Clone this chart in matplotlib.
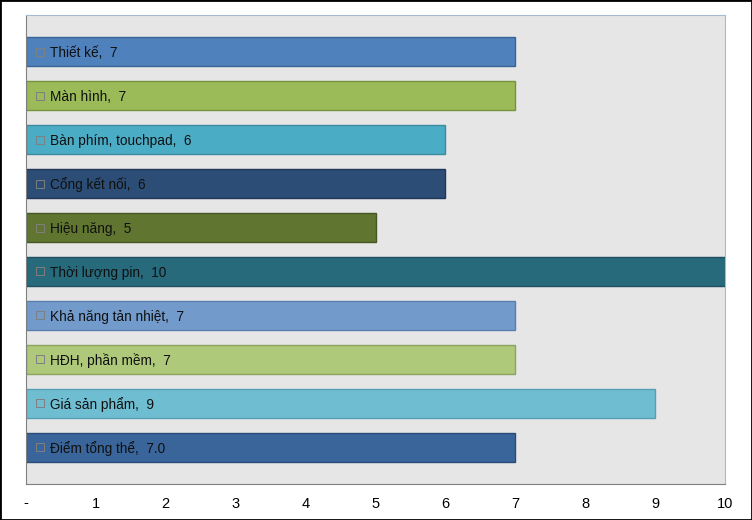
import matplotlib.pyplot as plt
from matplotlib.patches import Rectangle

categories = ["Thiết kế", "Màn hình", "Bàn phím, touchpad", "Cổng kết nối", "Hiệu năng",
              "Thời lượng pin", "Khả năng tản nhiệt", "HĐH, phần mềm", "Giá sản phẩm", "Điểm tổng thể"]
values = [7, 7, 6, 6, 5, 10, 7, 7, 9, 7.0]
value_labels = ["7", "7", "6", "6", "5", "10", "7", "7", "9", "7.0"]
colors = ["#4F81BD", "#9BBB59", "#4BACC6", "#2C4D75", "#5F7530",
          "#276A7C", "#729ACA", "#AFC97A", "#6FBDD1", "#3A659A"]
edges = ["#3A6496", "#76923C", "#3A8BA0", "#1F3857", "#465722",
         "#1D5060", "#5A7FAD", "#8AA55C", "#559FB3", "#2A4D77"]
xticks = [0, 1, 2, 3, 4, 5, 6, 7, 8, 9, 10]
xticklabels = ["-", "1", "2", "3", "4", "5", "6", "7", "8", "9", "10"]

plt.rcParams['font.family'] = ['Liberation Sans', 'DejaVu Sans']

fig = plt.figure(figsize=(7.52, 5.2), dpi=100)
ax = fig.add_axes([26/752, 1 - 484/520, (725-26)/752, (484-15)/520])
ax.set_facecolor('#E6E6E6')

pos = list(range(len(categories)))
ax.barh(pos, values, height=0.68, color=colors, edgecolor=edges, linewidth=1, zorder=2)

for i, (c, v) in enumerate(zip(categories, value_labels)):
    ax.plot(0.2, i, marker='s', markersize=5.5, markerfacecolor='none',
            markeredgecolor='#7F7F7F', markeredgewidth=0.7, zorder=3)
    ax.text(0.35, i, c + ",  " + v, va='center_baseline', ha='left', fontsize=9.8,
            color='#101010', zorder=3)

ax.set_xlim(0, 10)
ax.set_ylim(9.83, -0.83)
ax.set_yticks([])
ax.set_xticks(xticks)
ax.set_xticklabels(xticklabels, fontsize=10.5)
ax.tick_params(axis='x', length=0, pad=9)
ax.spines['left'].set_color('#808080')
ax.spines['bottom'].set_color('#808080')
ax.spines['top'].set_color('#A8B8D0')
ax.spines['right'].set_color('#A8B8D0')

fig.patches.append(Rectangle((0, 0), 1, 1, transform=fig.transFigure, fill=False,
                             edgecolor='black', linewidth=2))
fig.savefig('out.png', dpi=100)
